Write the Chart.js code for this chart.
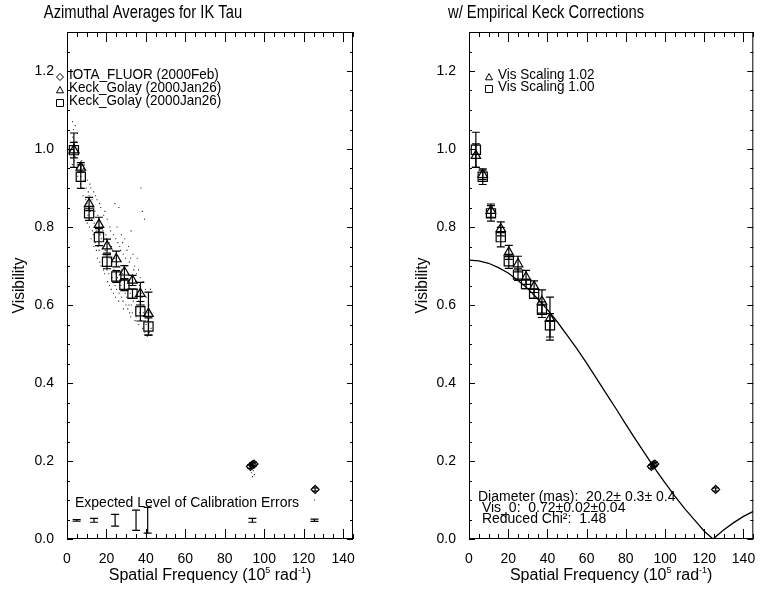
<!DOCTYPE html>
<html>
<head>
<meta charset="utf-8">
<script src="https://cdn.jsdelivr.net/npm/chart.js@4.4.1/dist/chart.umd.min.js"></script>
<style>
  body { margin: 0; background: #fff; }
  .wrap { position: relative; width: 761px; height: 590px; }
  canvas { position: absolute; top: 0; }
  #left { left: 0; }
  #right { left: 380px; }
</style>
</head>
<body>
<div class="wrap">
  <canvas id="left" width="380" height="590"></canvas>
  <canvas id="right" width="381" height="590"></canvas>
</div>
<script>
// spatial frequency of the Keck azimuthal averages (10^5 rad^-1)
const keckFreq = [3.5, 7.0, 11.2, 16.2, 20.3, 25.0, 29.1, 33.2, 37.2, 41.3]

// raw averages (left panel)
const triVis = [0.997, 0.953, 0.859, 0.806, 0.751, 0.718, 0.684, 0.663, 0.629, 0.578]
const triErr = [0.020, 0.012, 0.017, 0.019, 0.018, 0.020, 0.017, 0.013, 0.029, 0.055]
const sqVis = [0.997, 0.929, 0.835, 0.774, 0.711, 0.673, 0.652, 0.629, 0.584, 0.545]
const sqErr = [0.044, 0.030, 0.018, 0.022, 0.018, 0.015, 0.015, 0.012, 0.025, 0.022]

// with empirical corrections (right panel)
const triVisCor = [0.983, 0.934, 0.842, 0.795, 0.735, 0.705, 0.671, 0.647, 0.609, 0.565]
const triErrCor = [0.030, 0.012, 0.017, 0.018, 0.018, 0.020, 0.018, 0.015, 0.030, 0.055]
const sqVisCor = [0.998, 0.929, 0.835, 0.774, 0.712, 0.678, 0.654, 0.629, 0.588, 0.548]
const sqErrCor = [0.045, 0.020, 0.020, 0.025, 0.018, 0.015, 0.012, 0.012, 0.020, 0.030]

// IOTA_FLUOR
const iotaFreq = [93.0, 94.0, 94.8, 125.8]
const iotaVis = [0.186, 0.190, 0.192, 0.127]
const iotaErr = [0.005, 0.005, 0.005, 0.004]

// expected level of calibration errors
const calFreq = [4.9, 13.7, 24.4, 35.0, 40.9, 94.0, 125.5]
const calVis = [0.048, 0.048, 0.048, 0.048, 0.048, 0.048, 0.048]
const calErr = [0.002, 0.005, 0.015, 0.026, 0.033, 0.005, 0.003]

// individual visibility measurements (small dots)
const rawDots = [
  [2.8, 1.07], [3.3, 1.05], [2.9, 1.03], [3.6, 1.01], [3.1, 0.99], [3.7, 0.97], [2.7, 0.96],
  [4.2, 1.06], [4.6, 1.02], [4.1, 0.98], [4.8, 0.95],
  [5.3, 1.04], [5.1, 1.00], [5.7, 0.96], [5.4, 0.93],
  [6.2, 0.99], [6.6, 0.96], [6.1, 0.94], [6.8, 0.91],
  [7.4, 0.97], [7.1, 0.93], [7.7, 0.90],
  [8.3, 0.95], [8.6, 0.92], [8.1, 0.88],
  [9.2, 0.93], [9.7, 0.90], [9.4, 0.87], [9.0, 0.85],
  [10.3, 0.92], [10.8, 0.89], [10.1, 0.86], [10.6, 0.83], [10.2, 0.81],
  [11.6, 0.91], [11.2, 0.88], [11.8, 0.84], [11.4, 0.80],
  [12.1, 0.90], [12.7, 0.87], [12.4, 0.82], [12.9, 0.79], [12.2, 0.77],
  [13.5, 0.89], [13.2, 0.85], [13.8, 0.81], [13.3, 0.78], [13.6, 0.75],
  [14.4, 0.88], [14.1, 0.84], [14.7, 0.80], [14.3, 0.76], [14.9, 0.74],
  [15.2, 0.87], [15.6, 0.83], [15.1, 0.79], [15.8, 0.75], [15.4, 0.72],
  [16.5, 0.86], [16.2, 0.82], [16.8, 0.78], [16.3, 0.74], [16.6, 0.71],
  [17.1, 0.85], [17.7, 0.80], [17.4, 0.77], [17.9, 0.73], [17.2, 0.70],
  [18.6, 0.83], [18.3, 0.79], [18.8, 0.75], [18.1, 0.72], [18.5, 0.69],
  [19.2, 0.84], [19.7, 0.78], [19.4, 0.74], [19.9, 0.70], [19.1, 0.68],
  [20.4, 0.82], [20.1, 0.77], [20.8, 0.73], [20.3, 0.69], [20.6, 0.66],
  [21.7, 0.80], [21.3, 0.76], [21.9, 0.72], [21.2, 0.68], [21.5, 0.65],
  [22.1, 0.79], [22.6, 0.75], [22.3, 0.70], [22.8, 0.67], [22.4, 0.64],
  [23.5, 0.78], [23.2, 0.74], [23.8, 0.69], [23.1, 0.66], [23.6, 0.63],
  [24.3, 0.86], [24.7, 0.77], [24.1, 0.72], [24.9, 0.68], [24.4, 0.65], [24.6, 0.62],
  [25.4, 0.80], [25.8, 0.76], [25.2, 0.71], [25.6, 0.67], [25.1, 0.64],
  [26.3, 0.85], [26.7, 0.75], [26.1, 0.70], [26.9, 0.66], [26.4, 0.63], [26.2, 0.61],
  [27.6, 0.78], [27.2, 0.74], [27.8, 0.69], [27.3, 0.65], [27.7, 0.62],
  [28.2, 0.76], [28.5, 0.73], [28.1, 0.68], [28.8, 0.64], [28.4, 0.61], [28.6, 0.59],
  [29.3, 0.77], [29.7, 0.72], [29.1, 0.67], [29.5, 0.63], [29.9, 0.60],
  [30.4, 0.74], [30.1, 0.70], [30.7, 0.66], [30.3, 0.62], [30.8, 0.59],
  [31.2, 0.75], [31.6, 0.71], [31.1, 0.68], [31.8, 0.64], [31.4, 0.60], [31.7, 0.58],
  [32.5, 0.79], [32.2, 0.72], [32.8, 0.67], [32.1, 0.63], [32.6, 0.60], [32.3, 0.57],
  [33.4, 0.73], [33.8, 0.69], [33.2, 0.65], [33.6, 0.61], [33.1, 0.58],
  [34.3, 0.70], [34.7, 0.66], [34.1, 0.62], [34.9, 0.59], [34.5, 0.56],
  [35.6, 0.72], [35.2, 0.68], [35.8, 0.64], [35.4, 0.60], [35.1, 0.57],
  [36.3, 0.69], [36.7, 0.65], [36.2, 0.61], [36.8, 0.58], [36.4, 0.55],
  [37.5, 0.90], [37.1, 0.67], [37.8, 0.63], [37.3, 0.59], [37.6, 0.56],
  [38.2, 0.84], [38.6, 0.66], [38.1, 0.62], [38.7, 0.58], [38.4, 0.54],
  [39.3, 0.82], [39.8, 0.64], [39.1, 0.60], [39.6, 0.56], [39.4, 0.53],
  [40.2, 0.62], [40.6, 0.58], [40.1, 0.55], [40.7, 0.52],
  [41.5, 0.60], [41.1, 0.56], [41.8, 0.53],
  [42.3, 0.64], [42.1, 0.58], [42.6, 0.54],
  [93, 0.18], [93.5, 0.17], [94, 0.185], [94, 0.16], [94.5, 0.175], [95, 0.165],
  [125.5, 0.12], [125.5, 0.10]
]

// uniform disk fit
const fitFreq = [0, 5, 10, 15, 20, 25, 30, 35, 40, 45, 50, 55, 60, 65, 70, 75, 80, 85, 90, 95,
  100, 105, 110, 115, 120, 122, 124.5, 127, 130, 135, 140, 145]
const fitVis = [0.715, 0.713, 0.707, 0.696, 0.682, 0.663, 0.642, 0.616, 0.588, 0.557, 0.523, 0.488,
  0.451, 0.412, 0.373, 0.334, 0.294, 0.255, 0.217, 0.179, 0.144, 0.110, 0.078, 0.049, 0.020,
  0.011, 0.0, 0.011, 0.024, 0.042, 0.058, 0.071]

const xTicks = [0, 20, 40, 60, 80, 100, 120, 140]
const yTicks = [0, 0.2, 0.4, 0.6, 0.8, 1.0, 1.2]

const FONT = "'Liberation Sans', Arial, Helvetica, sans-serif"

const pts = (xs, ys) => xs.map((x, i) => ({ x, y: ys[i] }))

// IDL style frame: box with inward ticks on all four sides
const frame = {
  id: 'frame',
  afterDraw(chart) {
    const { ctx, chartArea: a, scales: { x, y } } = chart
    ctx.save()
    ctx.strokeStyle = '#000'
    ctx.lineWidth = 1
    ctx.strokeRect(a.left + 0.5, a.top + 0.5, a.right - a.left - 1, a.bottom - a.top - 1)
    ctx.beginPath()
    for (let v = 0; v <= 145; v += 5) {
      const px = Math.round(x.getPixelForValue(v)) + 0.5
      const len = v % 20 === 0 ? 10 : 5
      ctx.moveTo(px, a.bottom); ctx.lineTo(px, a.bottom - len)
      ctx.moveTo(px, a.top); ctx.lineTo(px, a.top + len)
    }
    for (let i = 0; i <= 26; i++) {
      const py = Math.round(y.getPixelForValue(i * 0.05)) + 0.5
      const len = i % 4 === 0 ? 6 : 3
      ctx.moveTo(a.left, py); ctx.lineTo(a.left + len, py)
      ctx.moveTo(a.right, py); ctx.lineTo(a.right - len, py)
    }
    ctx.stroke()
    ctx.restore()
  }
}

// vertical error bars with caps, taken from dataset.err
const errorBars = {
  id: 'errorBars',
  afterDatasetsDraw(chart) {
    const { ctx, scales: { x, y } } = chart
    ctx.save()
    ctx.strokeStyle = '#000'
    ctx.lineWidth = 1.2
    chart.data.datasets.forEach(ds => {
      if (!ds.err) return
      ds.data.forEach((p, i) => {
        const px = x.getPixelForValue(p.x)
        const hi = y.getPixelForValue(p.y + ds.err[i])
        const lo = y.getPixelForValue(p.y - ds.err[i])
        const cap = ds.cap || 4
        ctx.beginPath()
        ctx.moveTo(px, hi); ctx.lineTo(px, lo)
        ctx.moveTo(px - cap, hi); ctx.lineTo(px + cap, hi)
        ctx.moveTo(px - cap, lo); ctx.lineTo(px + cap, lo)
        ctx.stroke()
      })
    })
    ctx.restore()
  }
}

function symbol(ctx, kind, x, y, r) {
  ctx.beginPath()
  if (kind === 'diamond') {
    ctx.moveTo(x, y - r); ctx.lineTo(x + r, y); ctx.lineTo(x, y + r); ctx.lineTo(x - r, y); ctx.closePath()
  } else if (kind === 'triangle') {
    ctx.moveTo(x, y - r); ctx.lineTo(x + r, y + r * 0.8); ctx.lineTo(x - r, y + r * 0.8); ctx.closePath()
  } else {
    ctx.rect(x - r, y - r, 2 * r, 2 * r)
  }
  ctx.stroke()
}

// text squeezed horizontally, like the narrow plotting font of the original
function say(ctx, text, x, y, size, sx, align) {
  ctx.save()
  ctx.font = `${size}px ${FONT}`
  ctx.textAlign = align || 'left'
  ctx.translate(x, y)
  ctx.scale(sx, 1)
  ctx.fillText(text, 0, 0)
  ctx.restore()
}

// titles, axis labels, legends and notes (positions in canvas pixels)
const notes = {
  id: 'notes',
  afterDraw(chart, args, opts) {
    const ctx = chart.ctx
    const a = chart.chartArea
    ctx.save()
    ctx.fillStyle = '#000'
    ctx.strokeStyle = '#000'
    ctx.lineWidth = 1
    ctx.textBaseline = 'middle'

    say(ctx, opts.title, opts.titleX, 13, 18, 0.82, 'center')

    // y axis title
    ctx.save()
    ctx.translate(opts.yTitleX, (a.top + a.bottom) / 2)
    ctx.rotate(-Math.PI / 2)
    say(ctx, 'Visibility', 0, 0, 16, 0.97, 'center')
    ctx.restore()

    // x axis title with superscripts
    const parts = [['Spatial Frequency (10', 16, 0], ['5', 9, -5], [' rad', 16, 0], ['-1', 9, -5], [')', 16, 0]]
    let w = 0
    parts.forEach(p => { ctx.font = `${p[1]}px ${FONT}`; w += ctx.measureText(p[0]).width })
    let cx = (a.left + a.right) / 2 - w / 2
    ctx.textAlign = 'left'
    parts.forEach(p => {
      ctx.font = `${p[1]}px ${FONT}`
      ctx.fillText(p[0], cx, 576 + p[2])
      cx += ctx.measureText(p[0]).width
    })

    // legend
    opts.legend.forEach(([kind, text, lx, ly]) => {
      symbol(ctx, kind, lx - 9, ly + 2, 3.5)
      say(ctx, text, lx, ly, 15, 0.9)
    })

    opts.text.forEach(([text, tx, ty, size, sx]) => say(ctx, text, tx, ty, size, sx))
    ctx.restore()
  }
}

function scales(yWidth) {
  return {
    x: {
      type: 'linear', min: 0, max: 145,
      grid: { display: false }, border: { display: false },
      afterBuildTicks: s => { s.ticks = xTicks.map(v => ({ value: v })) },
      afterFit: s => { s.height = 51 },
      ticks: { color: '#000', font: { family: FONT, size: 14 }, padding: 4, maxRotation: 0 }
    },
    y: {
      type: 'linear', min: 0, max: 1.3,
      grid: { display: false }, border: { display: false },
      afterBuildTicks: s => { s.ticks = yTicks.map(v => ({ value: v })) },
      afterFit: s => { s.width = yWidth },
      ticks: { color: '#000', font: { family: FONT, size: 14 }, padding: 5, callback: v => v.toFixed(1) }
    }
  }
}

const marker = (style, r) => ({
  pointStyle: style, pointRadius: r, pointHoverRadius: r,
  pointBorderColor: '#000', pointBackgroundColor: 'rgba(0,0,0,0)', pointBorderWidth: 1.2,
  showLine: false
})

new Chart(document.getElementById('left'), {
  type: 'scatter',
  data: {
    datasets: [
      { data: rawDots.map(d => ({ x: d[0], y: d[1] })), pointStyle: 'rect', pointRadius: 0.75,
        pointBorderWidth: 0, pointBackgroundColor: '#222' },
      { data: pts(calFreq, calVis), err: calErr, pointRadius: 0 },
      { data: pts(keckFreq, triVis), err: triErr, ...marker('triangle', 5.5) },
      { data: pts(keckFreq, sqVis), err: sqErr, ...marker('rect', 6.5) },
      { data: pts(iotaFreq, iotaVis), err: iotaErr, cap: 3, ...marker('rectRot', 4) }
    ]
  },
  options: {
    responsive: false, animation: false,
    layout: { padding: { top: 32, right: 27, left: 0, bottom: 0 } },
    plugins: {
      legend: { display: false }, tooltip: { enabled: false },
      notes: {
        title: 'Azimuthal Averages for IK Tau', titleX: 143, yTitleX: 20,
        legend: [
          ['diamond', 'IOTA_FLUOR (2000Feb)', 69, 75],
          ['triangle', 'Keck_Golay (2000Jan26)', 69, 88],
          ['rect', 'Keck_Golay (2000Jan26)', 69, 101]
        ],
        text: [['Expected Level of Calibration Errors', 75, 503, 14, 1]]
      }
    },
    scales: scales(67)
  },
  plugins: [errorBars, frame, notes]
})

new Chart(document.getElementById('right'), {
  type: 'scatter',
  data: {
    datasets: [
      { data: pts(fitFreq, fitVis), showLine: true, pointRadius: 0, borderColor: '#000',
        borderWidth: 1.3, tension: 0, fill: false },
      { data: pts(keckFreq, triVisCor), err: triErrCor, ...marker('triangle', 5.5) },
      { data: pts(keckFreq, sqVisCor), err: sqErrCor, ...marker('rect', 6.5) },
      { data: pts(iotaFreq, iotaVis), err: iotaErr, cap: 3, ...marker('rectRot', 4) }
    ]
  },
  options: {
    responsive: false, animation: false,
    layout: { padding: { top: 32, right: 4, left: 0, bottom: 0 } },
    plugins: {
      legend: { display: false }, tooltip: { enabled: false },
      notes: {
        title: 'w/ Empirical Keck Corrections', titleX: 166, yTitleX: 43,
        legend: [
          ['triangle', 'Vis Scaling 1.02', 118, 75],
          ['rect', 'Vis Scaling 1.00', 118, 87]
        ],
        text: [
          ['Diameter (mas):  20.2\u00b1 0.3\u00b1 0.4', 98, 497, 14, 1],
          [' Vis_0:  0.72\u00b10.02\u00b10.04', 98, 508, 14, 1],
          [' Reduced Chi\u00b2:  1.48', 98, 519, 14, 1]
        ]
      }
    },
    scales: scales(89)
  },
  plugins: [errorBars, frame, notes]
})
</script>
</body>
</html>
